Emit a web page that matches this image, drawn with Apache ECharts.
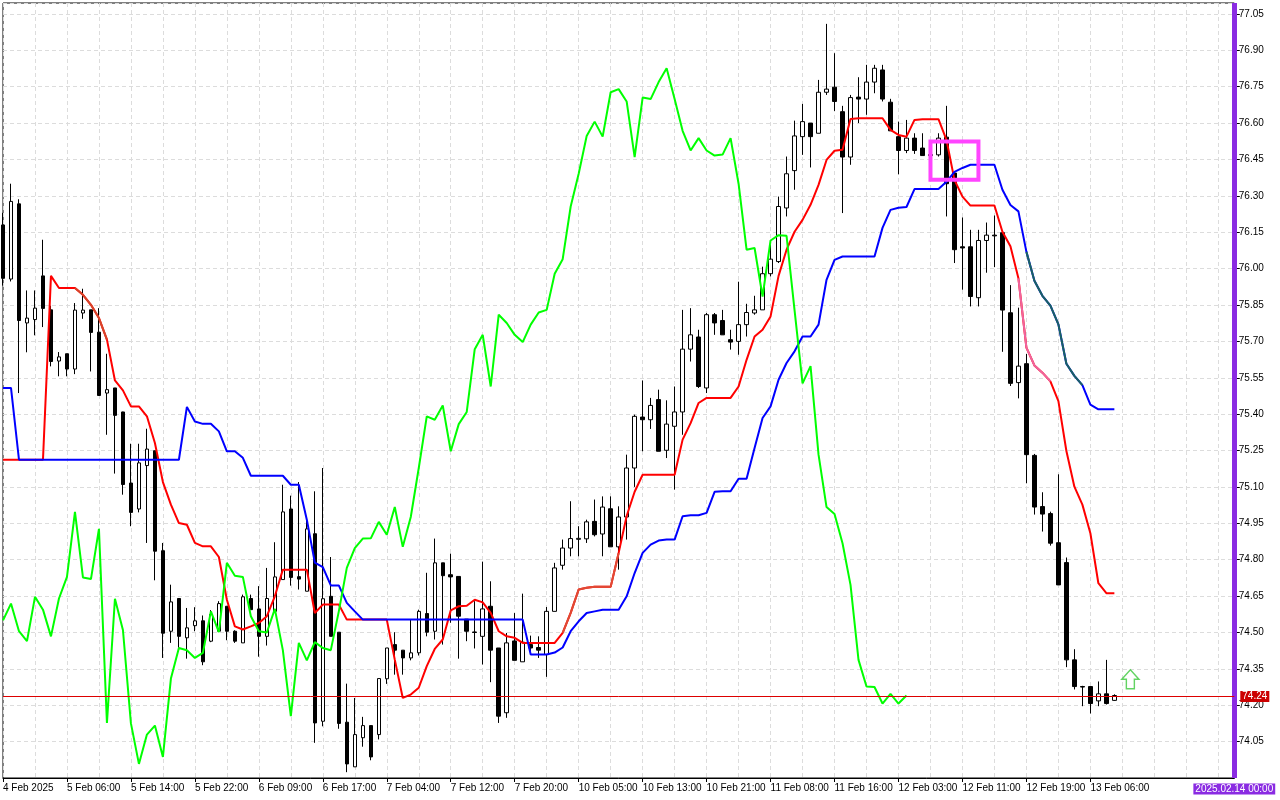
<!DOCTYPE html>
<html>
<head>
<meta charset="utf-8">
<script src="https://cdn.jsdelivr.net/npm/echarts/dist/echarts.min.js"></script>
<style>
html,body{margin:0;padding:0;background:#ffffff;}
#chart{width:1280px;height:800px;}
</style>
</head>
<body>
<div id="chart"></div>
<script>
// ---- Bar data (H1 candles, index 0..139) ----
const opens = [
76.18,75.957,76.267,75.776,75.79,75.97,75.83,75.619,75.649,75.586,
75.817,75.83,75.738,75.487,75.508,75.409,75.116,75.009,75.188,75.249,
74.837,74.505,74.64,74.478,74.528,74.548,74.464,74.505,74.608,74.505,
74.457,74.64,74.597,74.484,74.587,74.718,75.009,74.73,74.67,74.907,
74.134,74.649,74.501,74.13,73.946,74.066,74.116,74.079,74.309,74.45,
74.427,74.395,74.416,74.578,74.505,74.787,74.738,74.731,74.555,74.502,
74.484,74.608,74.436,74.169,74.465,74.379,74.45,74.438,74.409,74.587,
74.777,74.848,74.884,74.886,74.958,74.906,75.01,74.853,74.976,75.178,
75.388,75.377,75.46,75.251,75.35,75.409,75.668,75.718,75.508,75.81,
75.786,75.707,75.7,75.769,75.817,75.83,75.979,76.029,76.25,76.404,
76.544,76.6,76.558,76.727,76.748,76.647,76.46,76.707,76.699,76.769,
76.819,76.686,76.544,76.487,76.538,76.497,76.466,76.469,76.542,76.394,
76.09,76.09,75.88,76.116,76.138,76.148,75.818,75.53,75.608,75.23,
75.019,74.99,74.87,74.788,74.387,74.277,74.277,74.218,74.247,74.22
];
const highs = [
76.23,76.35,76.286,75.91,75.91,76.119,75.847,75.656,75.649,75.858,
75.917,75.83,75.837,75.649,75.508,75.41,75.278,75.278,75.34,75.25,
74.869,74.697,74.64,74.601,74.604,74.57,74.592,74.629,74.608,74.509,
74.656,74.656,74.691,74.766,74.872,75.109,75.064,75.12,74.972,75.082,
75.178,74.811,74.501,74.289,74.23,74.152,74.116,74.31,74.436,74.501,
74.427,74.555,74.594,74.746,74.887,74.787,74.825,74.731,74.555,74.629,
74.792,74.711,74.436,74.498,74.58,74.66,74.487,74.484,74.605,74.787,
74.883,75.041,74.938,74.965,75.048,75.061,75.061,75.02,75.233,75.398,
75.539,75.467,75.501,75.457,75.514,75.83,75.837,75.748,75.817,75.817,
75.83,75.748,75.946,75.855,75.888,76.008,76.098,76.297,76.462,76.61,
76.679,76.6,76.778,77.009,76.888,76.671,76.716,76.789,76.84,76.84,
76.84,76.7,76.606,76.613,76.558,76.558,76.5,76.558,76.671,76.394,
76.211,76.16,76.16,76.19,76.219,76.148,75.932,75.839,75.648,75.236,
75.078,74.998,75.152,74.809,74.431,74.28,74.277,74.298,74.387,74.245
];
const lows = [
75.93,75.947,75.487,75.655,75.725,75.759,75.597,75.556,75.556,75.565,
75.793,75.576,75.477,75.315,75.155,75.068,74.938,74.995,74.869,74.715,
74.395,74.457,74.437,74.392,74.505,74.365,74.46,74.505,74.468,74.457,
74.457,74.594,74.4,74.446,74.587,74.718,74.693,74.677,74.67,74.045,
74.113,74.484,74.103,73.924,73.946,74.029,73.973,74.059,74.288,74.326,
74.326,74.385,74.405,74.484,74.471,74.45,74.54,74.392,74.464,74.434,
74.368,74.295,74.127,74.148,74.385,74.379,74.416,74.395,74.317,74.587,
74.759,74.814,74.814,74.869,74.896,74.814,74.853,74.759,74.883,75.1,
75.247,75.339,75.247,75.219,75.089,75.315,75.617,75.508,75.487,75.727,
75.727,75.666,75.645,75.72,75.81,75.83,75.968,76.023,76.215,76.325,
76.469,76.417,76.558,76.716,76.65,76.229,76.428,76.6,76.634,76.723,
76.689,76.568,76.389,76.476,76.473,76.466,76.44,76.462,76.215,76.023,
75.913,75.844,75.844,75.983,76.006,75.657,75.516,75.465,75.115,74.986,
74.916,74.858,74.696,74.357,74.265,74.196,74.166,74.196,74.203,74.218
];
const closes = [
75.96,76.277,75.786,75.796,75.837,75.836,75.617,75.636,75.586,75.829,
75.829,75.737,75.477,75.501,75.395,75.11,74.995,75.199,75.256,74.835,
74.497,74.626,74.484,74.519,74.548,74.379,74.574,74.619,74.505,74.464,
74.647,74.594,74.484,74.64,74.729,74.997,74.727,74.72,74.927,74.127,
74.639,74.484,74.125,73.958,74.079,74.116,73.987,74.31,74.436,74.427,
74.395,74.416,74.587,74.501,74.787,74.734,74.729,74.567,74.505,74.5,
74.597,74.427,74.155,74.457,74.385,74.46,74.436,74.427,74.587,74.766,
74.848,74.887,74.888,74.956,74.903,75.017,74.853,74.976,75.178,75.391,
75.377,75.436,75.247,75.359,75.409,75.668,75.727,75.514,75.81,75.776,
75.727,75.697,75.769,75.819,75.83,75.979,76.039,76.256,76.391,76.547,
76.606,76.544,76.727,76.74,76.689,76.46,76.705,76.699,76.769,76.826,
76.699,76.568,76.487,76.538,76.487,76.466,76.47,76.538,76.35,76.078,
76.085,75.885,76.116,76.138,76.135,75.829,75.527,75.598,75.233,75.017,
74.988,74.868,74.696,74.387,74.277,74.275,74.207,74.247,74.207,74.24
];

// ---- Ichimoku lines ----
const tenkan = [
75.212,75.212,75.212,75.212,75.212,75.212,75.97,75.92,75.92,75.92,
75.892,75.851,75.796,75.707,75.539,75.498,75.432,75.432,75.391,75.281,
75.12,75.027,74.951,74.944,74.869,74.855,74.855,74.811,74.635,74.525,
74.512,74.525,74.539,74.567,74.649,74.759,74.759,74.759,74.759,74.58,
74.615,74.615,74.615,74.553,74.553,74.553,74.553,74.553,74.553,74.388,
74.23,74.244,74.272,74.361,74.432,74.471,74.591,74.608,74.61,74.635,
74.624,74.581,74.505,74.484,74.478,74.457,74.457,74.457,74.457,74.457,
74.498,74.581,74.677,74.684,74.688,74.688,74.688,74.828,74.98,75.08,
75.15,75.15,75.15,75.15,75.15,75.295,75.363,75.446,75.467,75.467,
75.467,75.467,75.514,75.624,75.72,75.748,75.803,75.97,76.078,76.152,
76.201,76.263,76.345,76.448,76.486,76.49,76.617,76.62,76.62,76.62,
76.62,76.572,76.551,76.544,76.613,76.616,76.616,76.616,76.531,76.366,
76.297,76.26,76.26,76.26,76.26,76.152,76.092,75.96,75.674,75.601,
75.571,75.535,75.454,75.248,75.101,75.027,74.909,74.703,74.662,74.662
];
const kijun = [
75.508,75.508,75.212,75.212,75.212,75.212,75.212,75.212,75.212,75.212,
75.212,75.212,75.212,75.212,75.212,75.212,75.212,75.212,75.212,75.212,
75.212,75.212,75.212,75.43,75.37,75.36,75.36,75.329,75.247,75.247,
75.22,75.146,75.146,75.146,75.146,75.146,75.109,75.109,74.965,74.788,
74.769,74.694,74.694,74.622,74.587,74.553,74.553,74.553,74.553,74.553,
74.553,74.553,74.553,74.553,74.553,74.553,74.553,74.553,74.553,74.553,
74.553,74.553,74.553,74.553,74.553,74.553,74.409,74.409,74.409,74.417,
74.438,74.505,74.546,74.58,74.587,74.594,74.594,74.594,74.649,74.745,
74.828,74.862,74.879,74.883,74.883,74.979,74.983,74.983,74.993,75.08,
75.082,75.082,75.134,75.134,75.26,75.384,75.432,75.542,75.611,75.659,
75.72,75.72,75.769,75.954,76.036,76.05,76.05,76.05,76.05,76.05,
76.168,76.242,76.251,76.254,76.328,76.328,76.328,76.328,76.358,76.399,
76.415,76.428,76.428,76.428,76.428,76.325,76.262,76.236,76.069,75.95,
75.888,75.847,75.77,75.608,75.558,75.52,75.439,75.42,75.42,75.42
];
const chikou = [
74.55,74.619,74.505,74.464,74.647,74.594,74.484,74.64,74.729,74.997,
74.727,74.72,74.927,74.127,74.639,74.51,74.125,73.958,74.079,74.116,
73.987,74.31,74.436,74.427,74.395,74.416,74.587,74.501,74.787,74.734,
74.729,74.567,74.505,74.5,74.597,74.427,74.155,74.457,74.385,74.46,
74.436,74.427,74.587,74.766,74.848,74.887,74.888,74.956,74.903,75.017,
74.853,74.976,75.178,75.391,75.377,75.436,75.247,75.359,75.409,75.668,
75.727,75.514,75.81,75.776,75.727,75.697,75.769,75.819,75.83,75.979,
76.039,76.256,76.391,76.547,76.606,76.544,76.727,76.74,76.689,76.46,
76.705,76.699,76.769,76.826,76.699,76.568,76.487,76.538,76.487,76.466,
76.47,76.538,76.35,76.078,76.085,75.885,76.116,76.138,76.135,75.829,
75.527,75.598,75.233,75.017,74.988,74.868,74.696,74.387,74.277,74.275,
74.207,74.247,74.207,74.24
];

// ---- Axis labels ----
const xTickLabels = ['4 Feb 2025','5 Feb 06:00','5 Feb 14:00','5 Feb 22:00','6 Feb 09:00','6 Feb 17:00',
  '7 Feb 04:00','7 Feb 12:00','7 Feb 20:00','10 Feb 05:00','10 Feb 13:00','10 Feb 21:00',
  '11 Feb 08:00','11 Feb 16:00','12 Feb 03:00','12 Feb 11:00','12 Feb 19:00','13 Feb 06:00'];
const labelEvery = 8;
const gridEvery = 4;
const totalSlots = 155;           // 140 bars + future slots up to the vertical line
const yMin = 73.90, yMax = 77.095, yStep = 0.15;

// ---- Annotations ----
const currentPrice = 74.24;
const vLineSlot = 154;
const vLineLabel = '2025.02.14 00:00';
const arrowPoint = [141, 74.307];
const boxCorners = [[116, 76.524], [122, 76.366]];
const pinkRange = [127, 131];
const tealRange = [128, 135];
const brownRanges = [[9, 13], [70, 77]];

const slots = [];
for (let i = 0; i < totalSlots; i++) slots.push(String(i));
const candleData = opens.map((o, i) => [o, closes[i], lows[i], highs[i]]);
const segment = (arr, a, b) => arr.map((v, i) => (i >= a && i <= b ? v : null));

const FONT = 'Liberation Sans, Arial, sans-serif';
const labelIdx = (i) => i % labelEvery === 0 && i / labelEvery < xTickLabels.length;
const gridIdx = (i) => i % gridEvery === 0;

const lineBase = {type: 'line', symbol: 'none', showSymbol: false, silent: true, animation: false, connectNulls: false};

const series = [
  {
    type: 'candlestick', data: candleData, barWidth: 4, silent: true, animation: false,
    itemStyle: {color: '#ffffff', color0: '#000000', borderColor: '#000000', borderColor0: '#000000', borderWidth: 1},
    z: 2
  },
  Object.assign({}, lineBase, {data: tenkan, lineStyle: {color: '#ff0000', width: 2}, z: 3}),
  Object.assign({}, lineBase, {data: segment(tenkan, brownRanges[0][0], brownRanges[0][1]), lineStyle: {color: '#d8442a', width: 2}, z: 3}),
  Object.assign({}, lineBase, {data: segment(tenkan, brownRanges[1][0], brownRanges[1][1]), lineStyle: {color: '#e04a34', width: 2}, z: 3}),
  Object.assign({}, lineBase, {data: segment(tenkan, pinkRange[0], pinkRange[1]), lineStyle: {color: '#f0649e', width: 2}, z: 3}),
  Object.assign({}, lineBase, {data: kijun, lineStyle: {color: '#0000ff', width: 2}, z: 4,
    markLine: {symbol: ['none', 'none'], silent: true, animation: false,
      lineStyle: {color: '#8a2be2', width: 5, type: 'solid'}, label: {show: false},
      data: [{xAxis: String(vLineSlot)}]}}),
  Object.assign({}, lineBase, {data: segment(kijun, tealRange[0], tealRange[1]), lineStyle: {color: '#1a6262', width: 2}, z: 4}),
  Object.assign({}, lineBase, {data: chikou, lineStyle: {color: '#00ff00', width: 2}, z: 5}),
  {
    type: 'scatter', data: [arrowPoint], silent: true, animation: false, z: 10,
    symbol: 'path://M8.5,0 L17,9.5 L12.5,9.5 L12.5,19 L4.5,19 L4.5,9.5 L0,9.5 Z',
    symbolSize: [17, 19],
    itemStyle: {color: '#ffffff', borderColor: '#3cc83c', borderWidth: 1.5}
  }
];

const chart = echarts.init(document.getElementById('chart'), null, {renderer: 'canvas'});
chart.setOption({
  backgroundColor: '#ffffff',
  animation: false,
  grid: {left: 2.3, right: 45.7, top: 3, bottom: 22, show: true, borderColor: '#000000', borderWidth: 1, backgroundColor: 'transparent'},
  xAxis: {
    type: 'category', data: slots, boundaryGap: false,
    axisLine: {show: true, lineStyle: {color: '#000000', width: 1}},
    axisTick: {show: true, interval: labelIdx, length: 4, lineStyle: {color: '#000000'}},
    axisLabel: {show: true, interval: labelIdx, align: 'left', margin: 5, fontSize: 10, color: '#000000', fontFamily: FONT,
      formatter: (v, i) => (i % labelEvery === 0 ? (xTickLabels[i / labelEvery] || '') : '')},
    splitLine: {show: true, interval: gridIdx, lineStyle: {color: '#dcdcdc', type: [4, 3], width: 1}}
  },
  yAxis: {
    type: 'value', position: 'right', min: yMin, max: yMax, interval: yStep, offset: 2.5,
    axisLine: {show: false},
    axisTick: {show: true, length: 3, lineStyle: {color: '#000000'}},
    axisLabel: {show: true, showMinLabel: false, showMaxLabel: false, margin: 2, fontSize: 10, color: '#000000', fontFamily: FONT,
      formatter: (v) => v.toFixed(2)},
    splitLine: {show: true, lineStyle: {color: '#dcdcdc', type: [4, 3], width: 1}}
  },
  series: series
});

// Annotations placed through the chart's own coordinate conversion
const p1 = chart.convertToPixel({gridIndex: 0}, boxCorners[0]);
const p2 = chart.convertToPixel({gridIndex: 0}, boxCorners[1]);
const vx = chart.convertToPixel({xAxisIndex: 0}, vLineSlot);
const x0 = chart.convertToPixel({xAxisIndex: 0}, 0);
const py = Math.round(chart.convertToPixel({yAxisIndex: 0}, currentPrice)) + 0.5;
chart.setOption({
  graphic: [
    {type: 'line', z: 6, silent: true,
      shape: {x1: x0, y1: py, x2: vx, y2: py},
      style: {stroke: '#dd0000', lineWidth: 1}},
    {type: 'text', z: 100, silent: true, x: vx + 6, y: py,
      style: {text: currentPrice.toFixed(2), fill: '#ffffff', backgroundColor: '#cc0000', padding: [1, 2, 0, 2],
        align: 'left', verticalAlign: 'middle', fontSize: 10, fontFamily: FONT}},
    {type: 'rect', z: 100, silent: true,
      shape: {x: p1[0], y: p1[1], width: p2[0] - p1[0], height: p2[1] - p1[1]},
      style: {fill: 'rgba(0,0,0,0)', stroke: '#ff44ff', lineWidth: 4}},
    {type: 'text', z: 100, silent: true, x: vx, y: 789,
      style: {text: vLineLabel, fill: '#ffffff', backgroundColor: '#8a2be2', padding: [1, 2, 0, 2],
        align: 'center', verticalAlign: 'middle', fontSize: 10, fontFamily: FONT}}
  ]
});
</script>
</body>
</html>
